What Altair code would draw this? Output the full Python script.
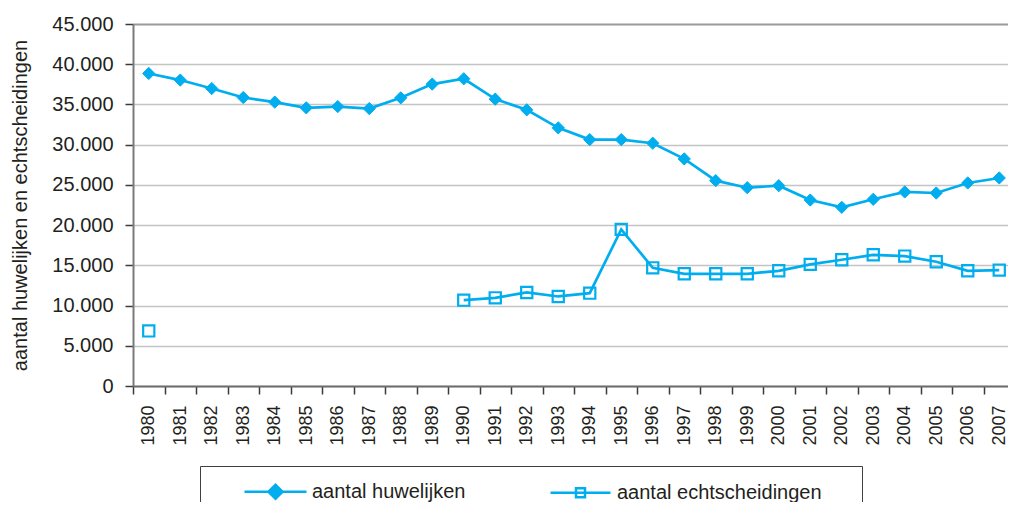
import altair as alt
import pandas as pd

# ---- data ----
years = list(range(1980, 2008))
huwelijken = [38850, 38030, 36980, 35860, 35290, 34580, 34740, 34490, 35820, 37530,
              38190, 35660, 34330, 32090, 30630, 30630, 30180, 28230, 25530, 24650,
              24900, 23120, 22210, 23210, 24120, 23990, 25240, 25860]
echtscheidingen = [6850, None, None, None, None, None, None, None, None, None,
                   10670, 10960, 11630, 11130, 11540, 19470, 14690, 13950, 13950, 13950,
                   14320, 15120, 15690, 16310, 16150, 15440, 14320, 14410]
series_names = ["aantal huwelijken", "aantal echtscheidingen"]
y_ticks = list(range(0, 45001, 5000))

CYAN = "#00aeef"
TXT = "#231f20"
FONT = "Liberation Sans"

rows = []
for name, vals in zip(series_names, [huwelijken, echtscheidingen]):
    seg = 0
    prev_missing = False
    for yr, v in zip(years, vals):
        if v is None:
            prev_missing = True
            continue
        if prev_missing:
            seg += 1
            prev_missing = False
        rows.append({"jaar": yr, "waarde": v, "reeks": name, "segment": f"{name}-{seg}"})
df = pd.DataFrame(rows)

x_enc = alt.X(
    "jaar:O",
    scale=alt.Scale(type="band", paddingInner=0, paddingOuter=0, range=[0, 882]),
    axis=alt.Axis(title=None, labelAngle=270, labelFontSize=18, labelFont=FONT,
                  labelColor=TXT, labelPadding=11, tickSize=8, tickBand="extent",
                  tickColor="#3a3a3a", tickWidth=1.5, domainColor="#6d6d6d",
                  domainWidth=2, grid=False),
)
y_enc = alt.Y(
    "waarde:Q",
    scale=alt.Scale(domain=[0, 45000], nice=False),
    axis=alt.Axis(values=y_ticks,
                  labelExpr="replace(format(datum.value, ','), ',', '.')",
                  labelFontSize=20, labelFont=FONT, labelColor=TXT, labelPadding=12,
                  tickSize=8, tickColor="#3a3a3a", tickWidth=1.5,
                  domainColor="#7a7a7a", domainWidth=2,
                  gridColor=alt.condition("datum.value == 45000", alt.value("#9a9a9a"), alt.value("#c4c4c4")),
                  gridWidth=alt.condition("datum.value == 45000", alt.value(2.2), alt.value(1.5)),
                  title="aantal huwelijken en echtscheidingen", titleFont=FONT,
                  titleFontSize=20, titleFontWeight="normal", titleColor=TXT,
                  titleAngle=270, titleX=-113, titleY=181, titleAlign="center",
                  titleBaseline="middle"),
)

lines = alt.Chart(df).mark_line(color=CYAN, strokeWidth=2.7).encode(
    x=x_enc, y=y_enc, detail="segment:N"
)

points = alt.Chart(df).mark_point(filled=True, stroke=CYAN, opacity=1).encode(
    x=x_enc, y=y_enc,
    shape=alt.Shape("reeks:N", scale=alt.Scale(domain=series_names, range=["diamond", "square"]), legend=None),
    fill=alt.Fill("reeks:N", scale=alt.Scale(domain=series_names, range=[CYAN, "transparent"]), legend=None),
    strokeWidth=alt.StrokeWidth("reeks:N", scale=alt.Scale(domain=series_names, range=[1, 2.2]), legend=None),
    size=alt.Size("reeks:N", scale=alt.Scale(domain=series_names, range=[150, 125]), legend=None),
)

path_h = "M-3.1,0L3.1,0M-0.7,0L0,-0.7L0.7,0L0,0.7Z"
path_e = "M-3,0L3,0M-0.45,-0.45L0.45,-0.45L0.45,0.45L-0.45,0.45ZM26.2,0"

leg = alt.Legend(title=None, orient="none", legendX=67, legendY=442, direction="horizontal",
                 padding=14, strokeColor="#404040", symbolSize=400, symbolStrokeWidth=2.5,
                 symbolStrokeColor=CYAN, symbolOpacity=1, symbolOffset=50, labelOffset=25,
                 columnPadding=53, labelFont=FONT, labelFontSize=20, labelColor=TXT,
                 labelLimit=400)

legend_layer = alt.Chart(df).mark_point(filled=True, opacity=0).encode(
    x=x_enc, y=y_enc,
    shape=alt.Shape("reeks:N", scale=alt.Scale(domain=series_names, range=[path_h, path_e]), legend=leg),
    fill=alt.Fill("reeks:N", scale=alt.Scale(domain=series_names, range=[CYAN, "transparent"]), legend=leg),
    stroke=alt.Stroke("reeks:N", scale=alt.Scale(domain=series_names, range=[CYAN, CYAN]), legend=leg),
)

chart = alt.layer(lines, points, legend_layer).resolve_scale(
    shape="independent", fill="independent", stroke="independent"
).properties(
    width=875, height=362,
    padding={"left": 125, "top": 16, "right": 0, "bottom": 116},
    autosize=alt.AutoSizeParams(type="none"),
).configure_view(stroke=None)

chart.save("out.html", embed_options={"renderer": "svg", "actions": False})
